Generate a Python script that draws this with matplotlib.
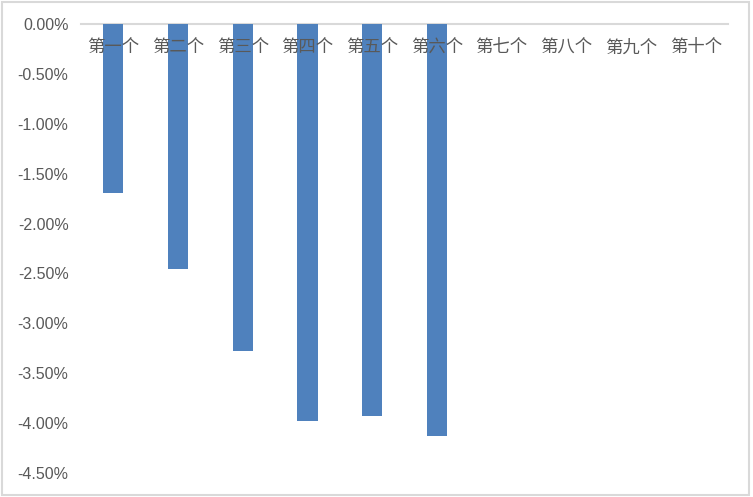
import numpy as np
import matplotlib.pyplot as plt
from matplotlib.patches import Rectangle
from matplotlib.ticker import FuncFormatter

categories = ["第一个", "第二个", "第三个", "第四个", "第五个",
              "第六个", "第七个", "第八个", "第九个", "第十个"]
values = [-0.0169, -0.0246, -0.0328, -0.0398, -0.0393, -0.0413]
y_ticks = [0.0, -0.005, -0.010, -0.015, -0.020, -0.025,
           -0.030, -0.035, -0.040, -0.045]

bar_color = "#4F81BD"
text_color = "#595959"
line_color = "#D9D9D9"

plt.rcParams["font.family"] = ["Liberation Sans", "Noto Sans CJK SC", "DejaVu Sans"]

fig = plt.figure(figsize=(7.53, 4.97), dpi=100)
ax = fig.add_axes([0.1076, 0.048, 0.8594, 0.904])

# spine first: moving it resets the tick labels
for side in ["left", "right", "top"]:
    ax.spines[side].set_visible(False)
ax.spines["bottom"].set_position(("data", 0))
ax.spines["bottom"].set_color(line_color)
ax.spines["bottom"].set_linewidth(1.5)
ax.spines["bottom"].set_zorder(0.5)

x = np.arange(len(categories))
ax.bar(x[:len(values)], values, width=0.31, color=bar_color, zorder=1)

ax.set_xlim(-0.5, len(categories) - 0.5)
ax.set_ylim(-0.045, 0)
ax.set_yticks(y_ticks)
ax.yaxis.set_major_formatter(FuncFormatter(lambda v, p: "{:.2f}%".format(v * 100 + 0.0)))
ax.set_xticks(x)
ax.set_xticklabels(categories)

ax.tick_params(axis="y", length=0, pad=9, labelsize=11.5, labelcolor=text_color)
ax.tick_params(axis="x", length=0, pad=10.5, labelsize=12.5, labelcolor=text_color)
for lab in ax.get_xticklabels():
    lab.set_family(["Noto Sans CJK SC", "DejaVu Sans"])

fig.patches.append(Rectangle((0.003, 0.004), 0.992, 0.992, transform=fig.transFigure,
                             fill=False, edgecolor=line_color, linewidth=1.5))

fig.savefig("out.png", dpi=100)
